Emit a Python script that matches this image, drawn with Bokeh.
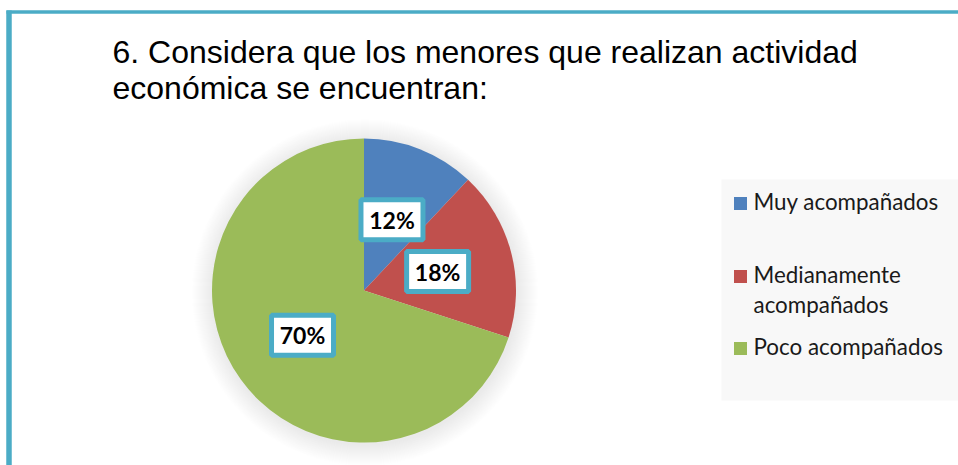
import numpy as np
from bokeh.plotting import figure
from bokeh.models import Range1d, ColumnDataSource
from bokeh.core.properties import value
from bokeh.embed import file_html
from bokeh.resources import INLINE

# ---- data ----
categories = ["Muy acompañados", "Medianamente acompañados", "Poco acompañados"]
legend_lines = [["Muy acompañados"], ["Medianamente", "acompañados"], ["Poco acompañados"]]
percent = [12, 18, 70]
labels = ["12%", "18%", "70%"]
colors = ["#4F81BD", "#C0504D", "#9BBB59"]
title_lines = ["6. Considera que los menores que realizan actividad",
               "económica se encuentran:"]

W, H = 958, 465
TEAL = "#4BACC6"

def fy(img_y):
    return H - img_y

def fx(img_x):
    return img_x

p = figure(width=W, height=H, output_backend="svg", toolbar_location=None,
           x_range=Range1d(0, W), y_range=Range1d(0, H), min_border=0)
p.axis.visible = False
p.grid.visible = False
p.outline_line_color = None
p.background_fill_color = "white"
p.border_fill_color = "white"

# frame border (teal, left and top)
p.segment(x0=[fx(8.5)], y0=[-5], x1=[fx(8.5)], y1=[fy(10)], line_color=TEAL, line_width=5.5)
p.segment(x0=[fx(6)], y0=[fy(11.5)], x1=[W + 5], y1=[fy(11.5)], line_color=TEAL, line_width=3.5)

# title
for i, t in enumerate(title_lines):
    p.text(x=[fx(112)], y=[fy(33 + 36 * i)], text=[t], text_font=value("Liberation Sans"),
           text_font_size="32px", text_color="#000000", text_baseline="top",
           text_align="left")

# legend background
p.quad(left=[fx(721)], right=[W + 5], top=[fy(179)], bottom=[fy(400)],
       fill_color="#F8F8F8", line_color=None)

# pie
cx, cy, r = fx(363.5), fy(290), 152
# soft shadow
for k in range(1, 22):
    p.circle(x=[cx + 1], y=[cy - 2], radius=r + k, fill_color="#808080",
             fill_alpha=0.012, line_color=None)

frac = np.array(percent, dtype=float) / sum(percent)
cum = np.concatenate([[0], np.cumsum(frac)])
start = np.pi / 2 - cum[:-1] * 2 * np.pi
end = np.pi / 2 - cum[1:] * 2 * np.pi
src = ColumnDataSource(dict(start=start, end=end, color=colors, cat=categories))
p.wedge(x=cx, y=cy, radius=r, start_angle="start", end_angle="end",
        direction="clock", fill_color="color", line_color=None, source=src)

# data labels at half radius along mid angle
mid = (start + end) / 2
lx = cx + 0.5 * r * np.cos(mid)
ly = cy + 0.5 * r * np.sin(mid)
p.rect(x=lx, y=ly, width=62, height=40, width_units="screen", height_units="screen",
       fill_color="white", line_color=TEAL, line_width=5)
p.text(x=lx, y=ly, text=labels, text_font=value("Lato"), text_font_style="bold",
       text_font_size="23px", text_color="#000000", text_align="center",
       text_baseline="middle")

# legend
sq_y = [fy(203), fy(276), fy(348)]
for i, lines in enumerate(legend_lines):
    p.rect(x=[fx(740)], y=[sq_y[i]], width=13, height=13, width_units="screen",
           height_units="screen", fill_color=colors[i], line_color=None)
    for j, t in enumerate(lines):
        p.text(x=[fx(753)], y=[sq_y[i] + 2 - 30 * j], text=[t], text_font=value("Lato"),
               text_font_size="22.4px", text_color="#1a1a1a", text_align="left",
               text_baseline="middle")

open("out.html", "w").write(file_html(p, INLINE))
